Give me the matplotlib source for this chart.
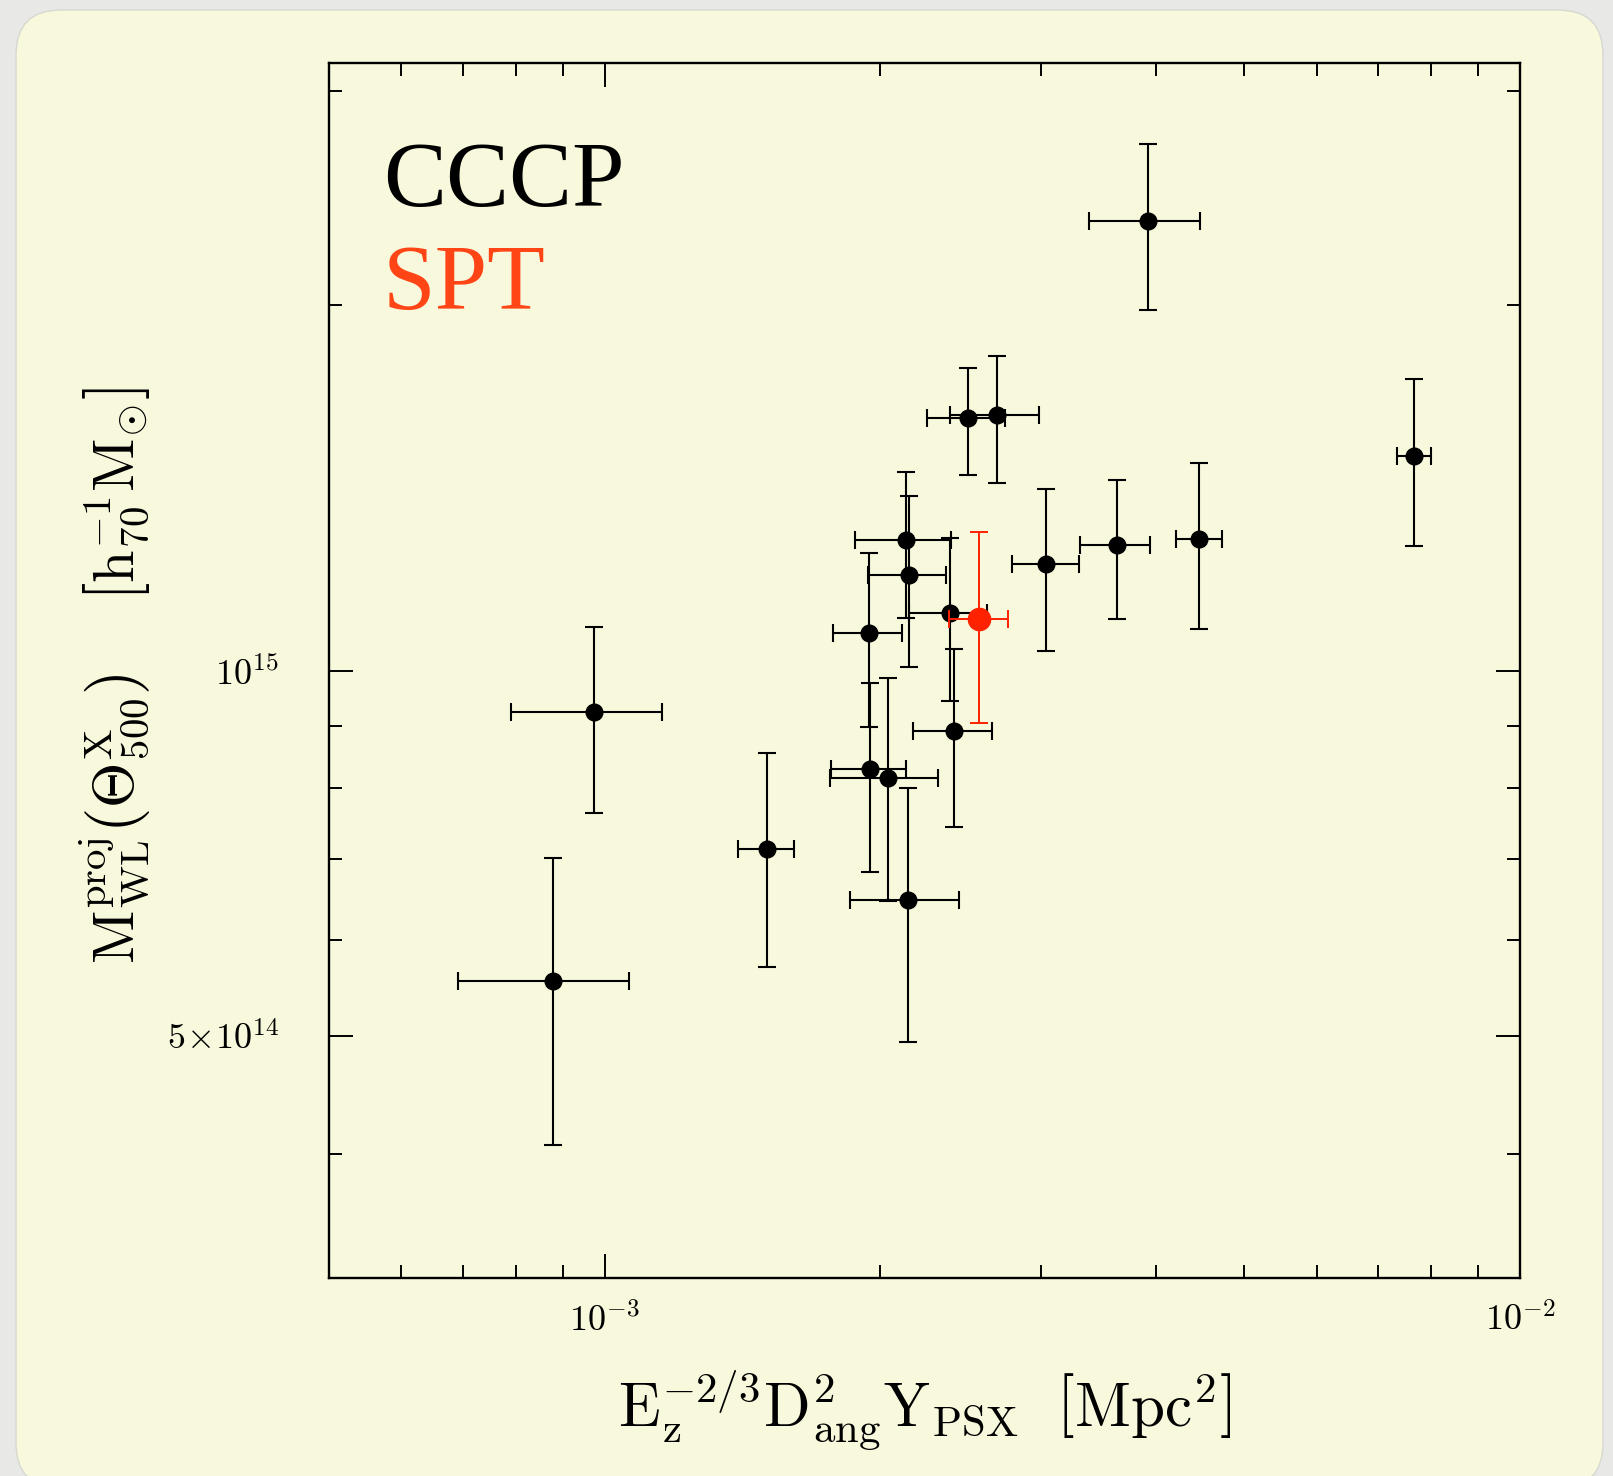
import matplotlib
matplotlib.use('Agg')
import matplotlib.pyplot as plt
from matplotlib.patches import FancyBboxPatch
from matplotlib.transforms import IdentityTransform
from matplotlib.ticker import FixedLocator, FixedFormatter, NullFormatter
import numpy as np

plt.rcParams['mathtext.fontset'] = 'cm'

# CCCP clusters: Y_PSX (x) and projected WL mass (y), with lower/upper error ends
y_psx    = [8.79e-4, 9.73e-4, 1.503e-3, 1.945e-3, 1.951e-3, 2.038e-3, 2.133e-3, 2.149e-3, 2.147e-3,
            2.383e-3, 2.411e-3, 2.493e-3, 2.686e-3, 3.038e-3, 3.627e-3, 3.926e-3, 4.464e-3, 7.66e-3]
y_psx_lo = [6.92e-4, 7.90e-4, 1.398e-3, 1.777e-3, 1.768e-3, 1.762e-3, 1.877e-3, 1.939e-3, 1.852e-3,
            2.149e-3, 2.171e-3, 2.248e-3, 2.386e-3, 2.787e-3, 3.307e-3, 3.385e-3, 4.207e-3, 7.34e-3]
y_psx_hi = [1.063e-3, 1.156e-3, 1.609e-3, 2.112e-3, 2.135e-3, 2.315e-3, 2.390e-3, 2.359e-3, 2.436e-3,
            2.616e-3, 2.651e-3, 2.736e-3, 2.985e-3, 3.296e-3, 3.946e-3, 4.472e-3, 4.723e-3, 8.00e-3]
m_wl     = [5.55e14, 9.24e14, 7.13e14, 1.074e15, 8.29e14, 8.15e14, 1.280e15, 1.198e15, 6.47e14,
            1.115e15, 8.92e14, 1.613e15, 1.623e15, 1.224e15, 1.269e15, 2.344e15, 1.282e15, 1.501e15]
m_wl_lo  = [4.07e14, 7.63e14, 5.70e14, 8.99e14, 6.83e14, 6.46e14, 1.104e15, 1.007e15, 4.95e14,
            9.44e14, 7.43e14, 1.449e15, 1.428e15, 1.038e15, 1.102e15, 1.979e15, 1.081e15, 1.266e15]
m_wl_hi  = [7.01e14, 1.085e15, 8.55e14, 1.249e15, 9.76e14, 9.85e14, 1.457e15, 1.393e15, 8.00e14,
            1.286e15, 1.041e15, 1.775e15, 1.816e15, 1.410e15, 1.435e15, 2.711e15, 1.483e15, 1.738e15]

# SPT cluster
spt_x, spt_x_lo, spt_x_hi = [2.567e-3], [2.377e-3], [2.759e-3]
spt_m, spt_m_lo, spt_m_hi = [1.103e15], [9.05e14], [1.300e15]

x_major = [1e-3, 1e-2]
x_major_labels = [r'$10^{-3}$', r'$10^{-2}$']
x_minor = [6e-4, 7e-4, 8e-4, 9e-4, 2e-3, 3e-3, 4e-3, 5e-3, 6e-3, 7e-3, 8e-3, 9e-3]
y_major = [5e14, 1e15]
y_major_labels = [r'$5\!\times\!10^{14}$', r'$10^{15}$']
y_minor = [4e14, 6e14, 7e14, 8e14, 9e14, 2e15, 3e15]

fig = plt.figure(figsize=(16.13, 14.76), dpi=100)
fig.patch.set_facecolor('#e8e8e6')
panel = FancyBboxPatch((16, -12), 1587, 1478, boxstyle='round,pad=0,rounding_size=45',
                       facecolor='#f8f8dc', edgecolor='#d8d8d2', linewidth=1.0,
                       transform=IdentityTransform(), zorder=-10)
fig.patches.append(panel)

ax = fig.add_axes([329/1613, 1 - 1278/1476, 1191/1613, 1215/1476])
ax.set_zorder(2)
ax.set_facecolor('none')
ax.set_xscale('log')
ax.set_yscale('log')
ax.set_xlim(5e-4, 1e-2)
ax.set_ylim(10**14.5, 10**15.5)

x = np.array(y_psx)
y = np.array(m_wl)
xerr = [x - np.array(y_psx_lo), np.array(y_psx_hi) - x]
yerr = [y - np.array(m_wl_lo), np.array(m_wl_hi) - y]
ax.errorbar(x, y, xerr=xerr, yerr=yerr, fmt='o', color='black', ms=12,
            elinewidth=1.5, capsize=6.3, capthick=1.5, zorder=3)

sx = np.array(spt_x)
sm = np.array(spt_m)
ax.errorbar(sx, sm, xerr=[sx - np.array(spt_x_lo), np.array(spt_x_hi) - sx],
            yerr=[sm - np.array(spt_m_lo), np.array(spt_m_hi) - sm],
            fmt='o', color='#ff2200', ms=16, elinewidth=1.4, capsize=6.3, capthick=1.4, zorder=4)

ax.xaxis.set_major_locator(FixedLocator(x_major))
ax.xaxis.set_major_formatter(FixedFormatter(x_major_labels))
ax.xaxis.set_minor_locator(FixedLocator(x_minor))
ax.xaxis.set_minor_formatter(NullFormatter())
ax.yaxis.set_major_locator(FixedLocator(y_major))
ax.yaxis.set_major_formatter(FixedFormatter(y_major_labels))
ax.yaxis.set_minor_locator(FixedLocator(y_minor))
ax.yaxis.set_minor_formatter(NullFormatter())

ax.tick_params(which='both', direction='in', top=True, right=True, width=1.4, colors='black')
ax.tick_params(which='major', length=17, labelsize=26)
ax.tick_params(which='minor', length=9.5)
ax.tick_params(axis='x', which='major', pad=18)
ax.tick_params(axis='y', which='major', pad=36)
for s in ax.spines.values():
    s.set_linewidth(1.7)

fig.text(383/1613, 1 - 206/1476, 'CCCP', fontsize=68, family='Liberation Serif',
         color='black', va='baseline')
fig.text(383/1613, 1 - 309/1476, 'SPT', fontsize=68, family='Liberation Serif',
         color='#ff4416', va='baseline')

fig.text(924.5/1613, 1 - 1425/1476,
         r'$\mathrm{E_z^{-2/3}D^2_{ang}Y_{PSX}}\ \ \left[\mathrm{Mpc^2}\right]$',
         fontsize=44, ha='center', va='baseline')
fig.text(115/1613, 1 - 676/1476,
         r'$\mathrm{M^{proj}_{WL}}\left(\Theta^{\mathrm{X}}_{500}\right)\ \ \ \ \left[\mathrm{h^{-1}_{70}M_{\odot}}\right]$',
         fontsize=42, ha='center', va='center', rotation=90)

fig.savefig('out.png', dpi=100, facecolor=fig.get_facecolor())
